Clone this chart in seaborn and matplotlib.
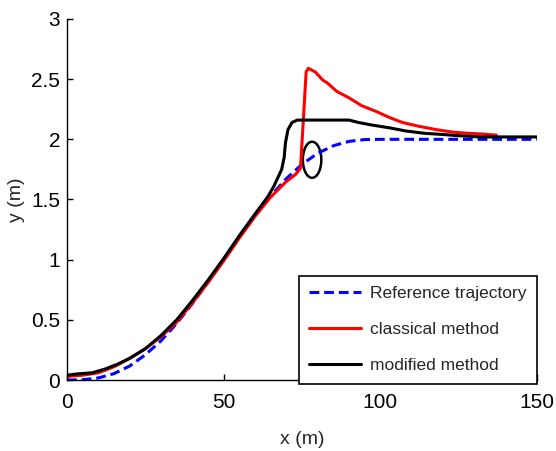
import numpy as np
import pandas as pd
import seaborn as sns
import matplotlib.pyplot as plt
from matplotlib.patches import Ellipse

# reference trajectory (blue dashed)
ref_x = [0, 5, 10, 15, 20, 25, 30, 35, 40, 45, 50, 55, 60, 65, 70, 75, 80, 85, 90, 95, 100, 150]
ref_y = [0.0, 0.002, 0.017, 0.053, 0.116, 0.21, 0.326, 0.47, 0.635, 0.814, 1.0, 1.186, 1.365,
         1.53, 1.674, 1.793, 1.884, 1.947, 1.983, 1.998, 2.0, 2.0]

# classical method (red)
cls_x = [0, 5, 10, 15, 20, 25, 30, 35, 40, 45, 50, 55, 60, 65, 70, 73, 74.5, 75.5, 76.3, 77.0,
         79.2, 81.7, 83, 86, 90.3, 94, 98.8, 103, 107, 112, 118, 123, 128, 132, 137]
cls_y = [0.03, 0.04, 0.06, 0.11, 0.18, 0.26, 0.36, 0.48, 0.64, 0.81, 0.99, 1.18, 1.36, 1.52, 1.65,
         1.71, 1.76, 2.2, 2.56, 2.59, 2.56, 2.49, 2.47, 2.4, 2.34, 2.28, 2.23, 2.18, 2.14, 2.11,
         2.08, 2.06, 2.05, 2.045, 2.035]

# modified method (black)
mod_x = [0, 3, 8, 12, 16, 20, 25, 30, 35, 40, 45, 50, 55, 60, 64, 66, 68.5, 69.3, 69.7, 70.5,
         71.8, 73.5, 80, 90, 93, 97, 103, 108, 114, 120, 125, 132, 150]
mod_y = [0.04, 0.05, 0.06, 0.09, 0.13, 0.18, 0.26, 0.37, 0.5, 0.66, 0.83, 1.01, 1.2, 1.38, 1.52,
         1.61, 1.75, 1.85, 1.97, 2.08, 2.14, 2.16, 2.16, 2.16, 2.14, 2.12, 2.095, 2.07, 2.05,
         2.04, 2.03, 2.02, 2.02]

sns.set_style("ticks")
plt.rcParams["font.family"] = ["Liberation Sans", "DejaVu Sans"]

fig = plt.figure(figsize=(5.56, 4.51), dpi=100)
ax = fig.add_axes([0.1205, 0.1574, 0.8455, 0.8005])

sns.lineplot(x=ref_x, y=ref_y, ax=ax, color=(0, 0, 1), lw=2.2,
             label="Reference trajectory", estimator=None, sort=False)
ax.lines[-1].set_dashes([3.2, 1.6])
sns.lineplot(x=cls_x, y=cls_y, ax=ax, color=(1, 0, 0), lw=2.2,
             label="classical method", estimator=None, sort=False)
sns.lineplot(x=mod_x, y=mod_y, ax=ax, color="black", lw=2.2,
             label="modified method", estimator=None, sort=False)

ax.add_patch(Ellipse((78.2, 1.83), 5.9, 0.30, fill=False, ec="black", lw=1.8))

ax.set_xlim(0, 150)
ax.set_ylim(0, 3)
ax.set_xticks([0, 50, 100, 150])
ax.set_xticklabels(["0", "50", "100", "150"])
ax.set_yticks([0, 0.5, 1, 1.5, 2, 2.5, 3])
ax.set_yticklabels(["0", "0.5", "1", "1.5", "2", "2.5", "3"])
ax.tick_params(direction="in", length=4, width=1, labelsize=15, colors="black")
ax.tick_params(axis="x", pad=9)
ax.tick_params(axis="y", pad=5)
sns.despine(ax=ax)
for s in ["left", "bottom"]:
    ax.spines[s].set_linewidth(1)
    ax.spines[s].set_color("black")
ax.set_xlabel("x (m)", fontsize=14, labelpad=14)
ax.set_ylabel("y (m)", fontsize=14, labelpad=4)

leg = ax.legend(loc="lower right", bbox_to_anchor=(1.0, -0.01), borderaxespad=0,
                fontsize=12.5, frameon=True, fancybox=False, handlelength=3.0,
                labelspacing=1.2, borderpad=0.6, handletextpad=0.5)
leg.get_frame().set_edgecolor("black")
leg.get_frame().set_linewidth(1.2)
leg.get_frame().set_alpha(1)
leg.get_lines()[0].set_dashes([3.2, 1.6])

fig.savefig("out.png", dpi=100)
